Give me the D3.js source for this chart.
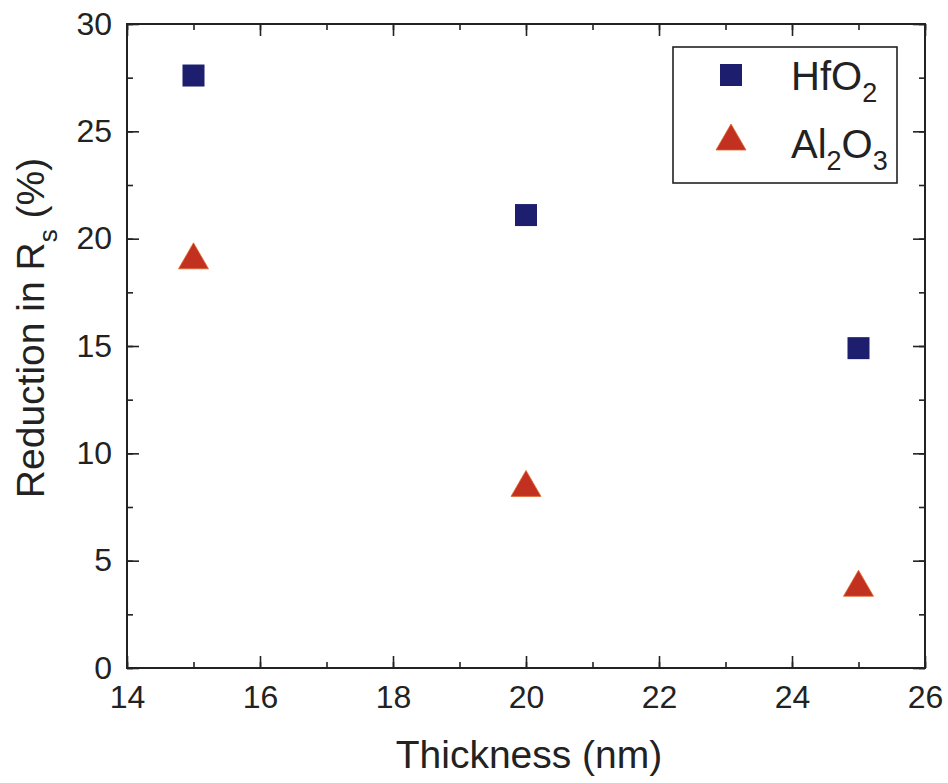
<!DOCTYPE html>
<html>
<head>
<meta charset="utf-8">
<script src="https://cdn.jsdelivr.net/npm/d3@7"></script>
<style>
  body { margin: 0; background: #fff; }
  text { font-family: Arial, "Liberation Sans", sans-serif; fill: #222; }
</style>
</head>
<body>
<script>
// data
var thickness = [15, 20, 25];
var hfo2 = [27.6, 21.1, 14.9];
var al2o3 = [19.2, 8.6, 3.95];
var xTicks = [14, 16, 18, 20, 22, 24, 26];
var yTicks = [0, 5, 10, 15, 20, 25, 30];

var w = 948;
var h = 783;
var padLeft = 127, padRight = 925, padTop = 24, padBottom = 668;

var svg = d3.select("body")
            .append("svg")
            .attr("width", w)
            .attr("height", h);

var xScale = d3.scaleLinear().domain([14, 26]).range([padLeft, padRight]);
var yScale = d3.scaleLinear().domain([0, 30]).range([padBottom, padTop]);

var ink = "#222";

// axes, ticks pointing inward on all four sides
function styleAxis(g) {
  g.select(".domain").remove();
  g.selectAll("line").attr("stroke", ink).attr("stroke-width", 1.6);
}

var xMinor = d3.range(14, 26.01, 1);
var yMinor = d3.range(0, 30.01, 2.5);

svg.append("g")
   .attr("transform", "translate(0," + padBottom + ")")
   .call(d3.axisBottom(xScale).tickValues(xTicks).tickSize(-12)
         .tickFormat(d3.format("d")))
   .call(styleAxis)
   .selectAll("text")
   .style("font-size", "32px")
   .attr("dy", "0.71em")
   .attr("y", 17)
   .attr("fill", ink);

svg.append("g")
   .attr("transform", "translate(0," + padBottom + ")")
   .call(d3.axisBottom(xScale).tickValues(xMinor).tickSize(-6).tickFormat(""))
   .call(styleAxis);

svg.append("g")
   .attr("transform", "translate(0," + padTop + ")")
   .call(d3.axisTop(xScale).tickValues(xTicks).tickSize(-12).tickFormat(""))
   .call(styleAxis);
svg.append("g")
   .attr("transform", "translate(0," + padTop + ")")
   .call(d3.axisTop(xScale).tickValues(xMinor).tickSize(-6).tickFormat(""))
   .call(styleAxis);

svg.append("g")
   .attr("transform", "translate(" + padLeft + ",0)")
   .call(d3.axisLeft(yScale).tickValues(yTicks).tickSize(-12)
         .tickFormat(d3.format("d")))
   .call(styleAxis)
   .selectAll("text")
   .style("font-size", "32px")
   .attr("x", -15)
   .attr("fill", ink);
svg.append("g")
   .attr("transform", "translate(" + padLeft + ",0)")
   .call(d3.axisLeft(yScale).tickValues(yMinor).tickSize(-6).tickFormat(""))
   .call(styleAxis);

svg.append("g")
   .attr("transform", "translate(" + padRight + ",0)")
   .call(d3.axisRight(yScale).tickValues(yTicks).tickSize(-12).tickFormat(""))
   .call(styleAxis);
svg.append("g")
   .attr("transform", "translate(" + padRight + ",0)")
   .call(d3.axisRight(yScale).tickValues(yMinor).tickSize(-6).tickFormat(""))
   .call(styleAxis);

// frame
svg.append("rect")
   .attr("x", padLeft)
   .attr("y", padTop)
   .attr("width", padRight - padLeft)
   .attr("height", padBottom - padTop)
   .attr("fill", "none")
   .attr("stroke", ink)
   .attr("stroke-width", 2);

// markers
var sq = 22;
var triPath = "M0,-13L15,13L-15,13Z";
var navy = "#1d1f6e";
var red = "#c2301f";

svg.selectAll("rect.hf")
   .data(thickness)
   .enter()
   .append("rect")
   .attr("class", "hf")
   .attr("x", function(d) { return xScale(d) - sq / 2; })
   .attr("y", function(d, i) { return yScale(hfo2[i]) - sq / 2; })
   .attr("width", sq)
   .attr("height", sq)
   .attr("fill", navy);

svg.selectAll("path.al")
   .data(thickness)
   .enter()
   .append("path")
   .attr("class", "al")
   .attr("d", triPath)
   .attr("transform", function(d, i) {
     return "translate(" + xScale(d) + "," + yScale(al2o3[i]) + ")";
   })
   .attr("fill", red)
   .attr("stroke", "#e0662a")
   .attr("stroke-width", 0.8);

// legend
svg.append("rect")
   .attr("x", 673)
   .attr("y", 47)
   .attr("width", 224)
   .attr("height", 136)
   .attr("fill", "#fff")
   .attr("stroke", ink)
   .attr("stroke-width", 1.6);

svg.append("rect")
   .attr("x", 731 - sq / 2)
   .attr("y", 75 - sq / 2)
   .attr("width", sq)
   .attr("height", sq)
   .attr("fill", navy);

svg.append("path")
   .attr("d", triPath)
   .attr("transform", "translate(731,137)")
   .attr("fill", red)
   .attr("stroke", "#e0662a")
   .attr("stroke-width", 0.8);

var leg1 = svg.append("text")
              .attr("x", 791)
              .attr("y", 90)
              .style("font-size", "40px");
leg1.append("tspan").text("HfO");
leg1.append("tspan").attr("dy", 12).style("font-size", "27px").text("2");

var leg2 = svg.append("text")
              .attr("x", 791)
              .attr("y", 158)
              .style("font-size", "40px");
leg2.append("tspan").text("Al");
leg2.append("tspan").attr("dy", 12).style("font-size", "27px").text("2");
leg2.append("tspan").attr("dy", -12).text("O");
leg2.append("tspan").attr("dy", 12).style("font-size", "27px").text("3");

// axis titles
svg.append("text")
   .attr("x", 529)
   .attr("y", 768)
   .attr("text-anchor", "middle")
   .style("font-size", "39px")
   .text("Thickness (nm)");

var yTitle = svg.append("text")
                .attr("transform", "translate(44," + 328 + ") rotate(-90)")
                .attr("text-anchor", "middle")
                .style("font-size", "39px");
yTitle.append("tspan").text("Reduction in R");
yTitle.append("tspan").attr("dy", 13).style("font-size", "26px").text("s");
yTitle.append("tspan").attr("dy", -13).text(" (%)");
</script>
</body>
</html>
